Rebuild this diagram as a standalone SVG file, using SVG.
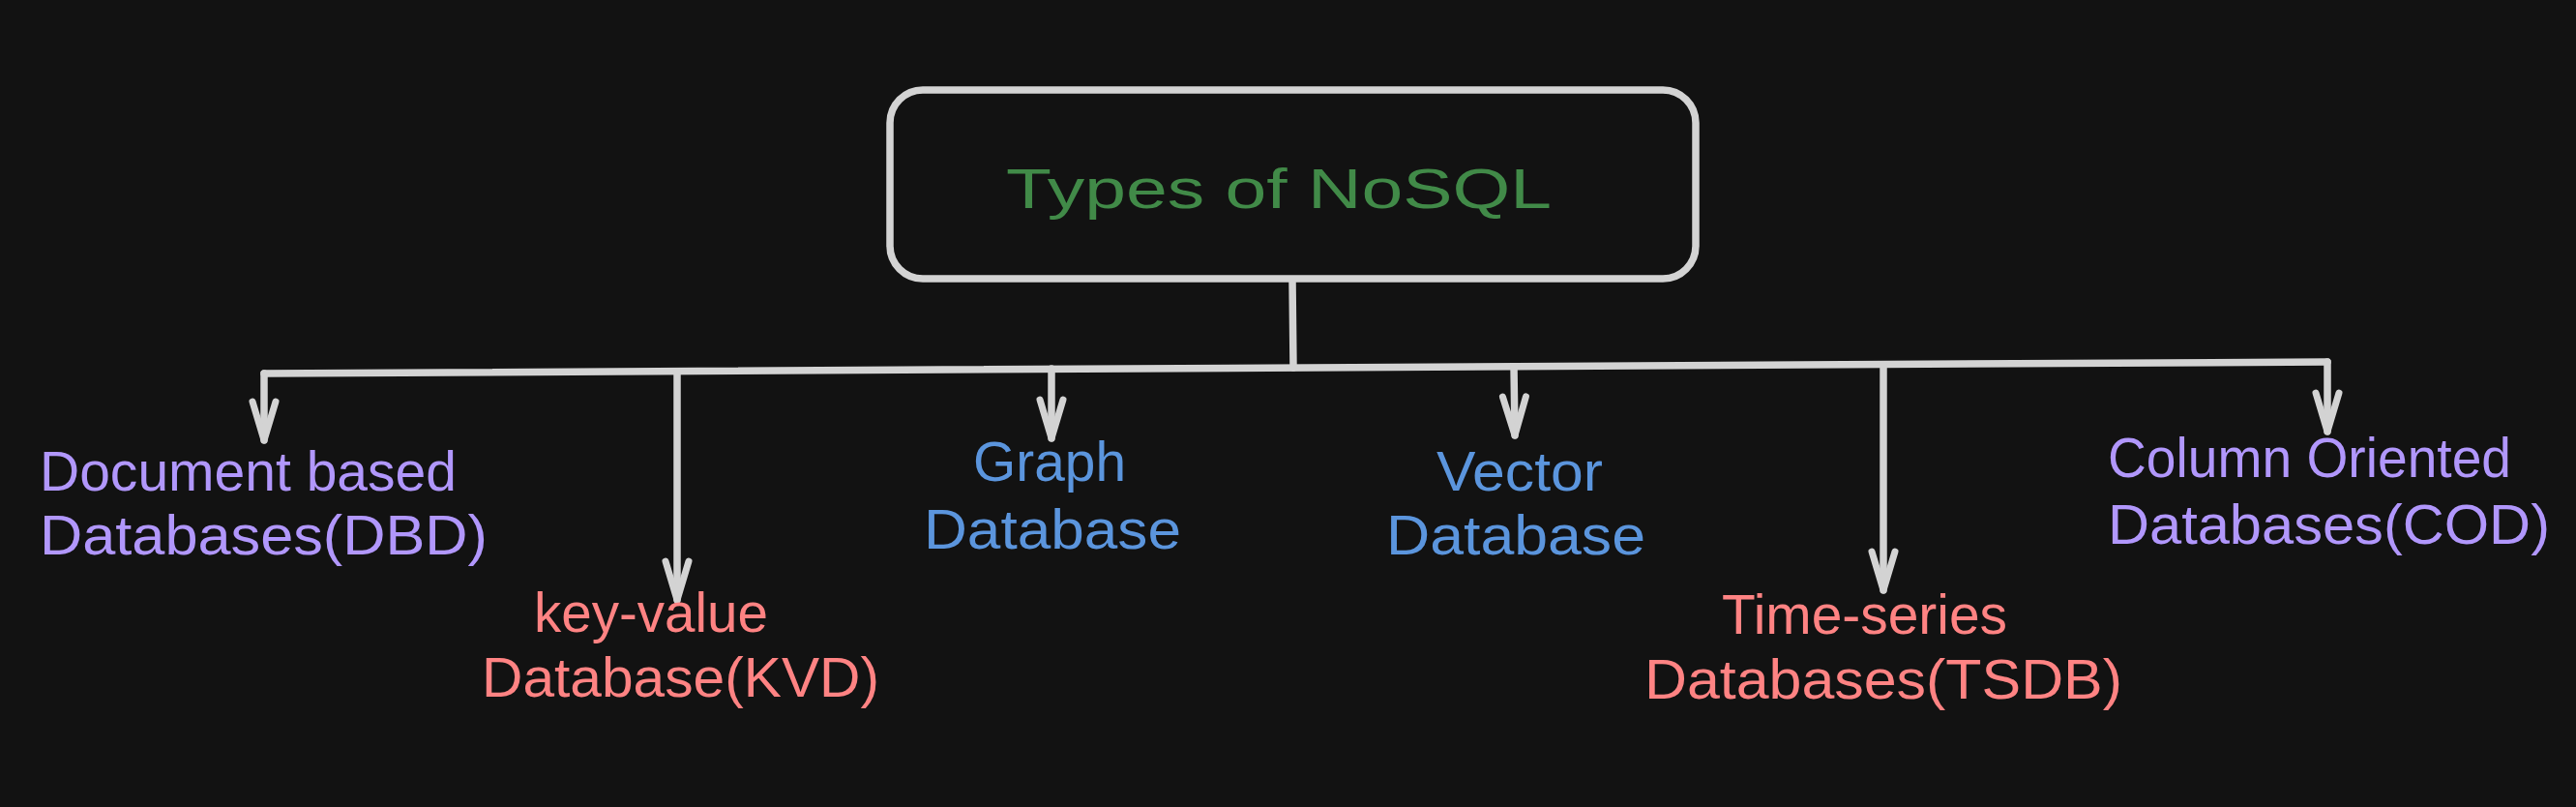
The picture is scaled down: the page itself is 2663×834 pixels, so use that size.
<svg xmlns="http://www.w3.org/2000/svg" width="2663" height="834" viewBox="0 0 2663 834">
<style>
.bg{fill:#121212}
.ln{fill:none;stroke:#d3d3d3;stroke-width:7.5;stroke-linecap:round;stroke-linejoin:round}
.lbl{font-family:"Liberation Sans",Arial,sans-serif;font-size:57px}
.purple{fill:#b197fc}
.salmon{fill:#ff8383}
.blue{fill:#5b95dd}
.green{fill:#418a48}
</style>
<defs>
<marker id="ah" markerUnits="userSpaceOnUse" markerWidth="50" markerHeight="40" viewBox="-45 -20 50 40" refX="0" refY="0" orient="auto">
<path d="M -40 -12 L 0 0 L -40 12" fill="none" stroke="#d3d3d3" stroke-width="7" stroke-linecap="round" stroke-linejoin="round"/>
</marker>
</defs>
<rect class="bg" x="0" y="0" width="2663" height="834"/>
<g id="connectors">
<path class="ln" d="M1336 290 L1337 380"/>
<path class="ln" d="M273 386 L2406 374"/>
<path class="ln" d="M273 386 L273 455" marker-end="url(#ah)"/>
<path class="ln" d="M700 384 L700 620" marker-end="url(#ah)"/>
<path class="ln" d="M1087 381 L1087 453" marker-end="url(#ah)"/>
<path class="ln" d="M1565 379 L1566 450" marker-end="url(#ah)"/>
<path class="ln" d="M1947 377 L1947 610" marker-end="url(#ah)"/>
<path class="ln" d="M2406 374 L2406 446" marker-end="url(#ah)"/>
</g>
<g id="node-title">
<rect class="ln" x="920" y="93" width="833" height="195" rx="34" ry="34" fill="#121212"/>
<text class="lbl green" x="1040" y="215" font-size="66" textLength="564" lengthAdjust="spacingAndGlyphs">Types of NoSQL</text>
</g>
<g id="node-dbd">
<text class="lbl purple" x="41" y="507" textLength="431" lengthAdjust="spacingAndGlyphs">Document based</text>
<text class="lbl purple" x="41" y="573" textLength="463" lengthAdjust="spacingAndGlyphs">Databases(DBD)</text>
</g>
<g id="node-kvd">
<text class="lbl salmon" x="552" y="653" textLength="242" lengthAdjust="spacingAndGlyphs">key-value</text>
<text class="lbl salmon" x="498" y="720" textLength="411" lengthAdjust="spacingAndGlyphs">Database(KVD)</text>
</g>
<g id="node-graph">
<text class="lbl blue" x="1006" y="497" textLength="158" lengthAdjust="spacingAndGlyphs">Graph</text>
<text class="lbl blue" x="955" y="567" textLength="266" lengthAdjust="spacingAndGlyphs">Database</text>
</g>
<g id="node-vector">
<text class="lbl blue" x="1485" y="507" textLength="172" lengthAdjust="spacingAndGlyphs">Vector</text>
<text class="lbl blue" x="1433" y="573" textLength="268" lengthAdjust="spacingAndGlyphs">Database</text>
</g>
<g id="node-tsdb">
<text class="lbl salmon" x="1780" y="655" textLength="295" lengthAdjust="spacingAndGlyphs">Time-series</text>
<text class="lbl salmon" x="1700" y="722" textLength="494" lengthAdjust="spacingAndGlyphs">Databases(TSDB)</text>
</g>
<g id="node-cod">
<text class="lbl purple" x="2179" y="493" textLength="417" lengthAdjust="spacingAndGlyphs">Column Oriented</text>
<text class="lbl purple" x="2179" y="562" textLength="457" lengthAdjust="spacingAndGlyphs">Databases(COD)</text>
</g>
</svg>
